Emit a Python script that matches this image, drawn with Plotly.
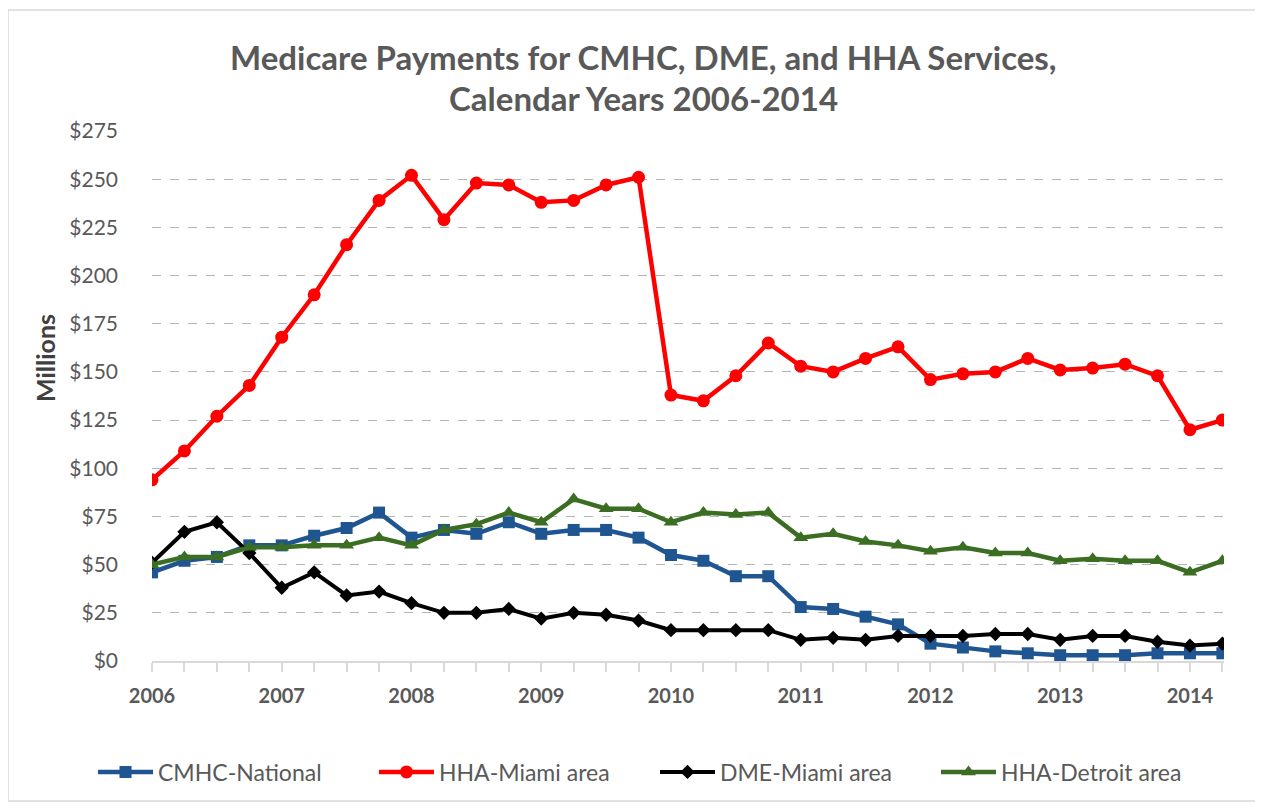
import plotly.graph_objects as go

quarters = [
    "2006 Q1", "2006 Q2", "2006 Q3", "2006 Q4",
    "2007 Q1", "2007 Q2", "2007 Q3", "2007 Q4",
    "2008 Q1", "2008 Q2", "2008 Q3", "2008 Q4",
    "2009 Q1", "2009 Q2", "2009 Q3", "2009 Q4",
    "2010 Q1", "2010 Q2", "2010 Q3", "2010 Q4",
    "2011 Q1", "2011 Q2", "2011 Q3", "2011 Q4",
    "2012 Q1", "2012 Q2", "2012 Q3", "2012 Q4",
    "2013 Q1", "2013 Q2", "2013 Q3", "2013 Q4",
    "2014 Q1", "2014 Q2",
]
year_ticks = ["2006 Q1", "2007 Q1", "2008 Q1", "2009 Q1", "2010 Q1",
              "2011 Q1", "2012 Q1", "2013 Q1", "2014 Q1"]
year_labels = ["2006", "2007", "2008", "2009", "2010", "2011", "2012", "2013", "2014"]

cmhc_national = [46, 52, 54, 60, 60, 65, 69, 77, 64, 68, 66, 72, 66, 68, 68, 64,
                 55, 52, 44, 44, 28, 27, 23, 19, 9, 7, 5, 4, 3, 3, 3, 4, 4, 4]
hha_miami = [94, 109, 127, 143, 168, 190, 216, 239, 252, 229, 248, 247, 238, 239, 247, 251,
             138, 135, 148, 165, 153, 150, 157, 163, 146, 149, 150, 157, 151, 152, 154, 148,
             120, 125]
dme_miami = [51, 67, 72, 56, 38, 46, 34, 36, 30, 25, 25, 27, 22, 25, 24, 21,
             16, 16, 16, 16, 11, 12, 11, 13, 13, 13, 14, 14, 11, 13, 13, 10, 8, 9]
hha_detroit = [50, 54, 54, 59, 59, 60, 60, 64, 60, 68, 71, 77, 72, 84, 79, 79,
               72, 77, 76, 77, 64, 66, 62, 60, 57, 59, 56, 56, 52, 53, 52, 52, 46, 52]

y_ticks = [0, 25, 50, 75, 100, 125, 150, 175, 200, 225, 250, 275]

FONT = "Lato"
TXT = "#595959"

# target plot area on the screenshot: x 152..1224, y 131..661 (page adds 8px body margin)
PL, PR, PT, PB = 152, 1224, 131, 661
PW, PH = PR - PL, PB - PT


def px(x):
    return (x - PL) / PW


def py(y):
    return (PB - y) / PH


fig = go.Figure()
fig.add_trace(go.Scatter(
    x=quarters, y=cmhc_national, name="CMHC-National", mode="lines+markers",
    line=dict(color="#1f5591", width=4.5),
    marker=dict(symbol="square", size=12, color="#1f5591")))
fig.add_trace(go.Scatter(
    x=quarters, y=hha_miami, name="HHA-Miami area", mode="lines+markers",
    line=dict(color="#ff0000", width=4.5),
    marker=dict(symbol="circle", size=13, color="#ff0000")))
fig.add_trace(go.Scatter(
    x=quarters, y=dme_miami, name="DME-Miami area", mode="lines+markers",
    line=dict(color="#000000", width=4),
    marker=dict(symbol="diamond", size=11, color="#000000")))
fig.add_trace(go.Scatter(
    x=quarters, y=hha_detroit, name="HHA-Detroit area", mode="lines+markers",
    line=dict(color="#3b6e22", width=4.5),
    marker=dict(symbol="triangle-up", size=13, color="#3b6e22")))

ticktext = [year_labels[year_ticks.index(q)] if q in year_ticks else "" for q in quarters]

fig.update_layout(
    width=1263, height=812,
    paper_bgcolor="white", plot_bgcolor="white",
    margin=dict(l=PL - 8, r=1263 - (PR - 8), t=PT - 8, b=812 - (PB - 8)),
    font=dict(family=FONT, color=TXT),
    showlegend=True,
    legend=dict(orientation="h", xref="paper", yref="paper",
                x=px(93), y=py(772), xanchor="left", yanchor="middle",
                font=dict(size=23, color=TXT, family=FONT),
                itemwidth=55, entrywidth=211, entrywidthmode="pixels",
                bgcolor="rgba(0,0,0,0)"),
    xaxis=dict(type="category", range=[0, 33.05], tickmode="array",
               tickvals=quarters, ticktext=ticktext, showgrid=False,
               showline=True, linecolor="#d9d9d9", linewidth=1.5,
               ticks="outside", ticklen=9, tickcolor="#d9d9d9", tickwidth=1.5,
               tickfont=dict(size=20, color=TXT, family=FONT, weight="bold"),
               ticklabelstandoff=7, zeroline=False),
    yaxis=dict(range=[0, 275], tickmode="array", tickvals=y_ticks,
               ticktext=["$" + str(v) for v in y_ticks],
               showgrid=True, gridcolor="#b3b3b3", griddash="dash", gridwidth=1,
               showline=False, zeroline=False,
               tickfont=dict(size=21, color=TXT, family=FONT),
               ticklabelstandoff=33),
    annotations=[
        dict(text="<b>Medicare Payments for CMHC, DME, and HHA Services,</b>",
             xref="paper", yref="paper", x=px(643), y=py(57),
             xanchor="center", yanchor="middle", showarrow=False,
             font=dict(size=33, color=TXT, family=FONT)),
        dict(text="<b>Calendar Years 2006-2014</b>",
             xref="paper", yref="paper", x=px(643), y=py(98),
             xanchor="center", yanchor="middle", showarrow=False,
             font=dict(size=33, color=TXT, family=FONT)),
        dict(text="<b>Millions</b>", textangle=-90,
             xref="paper", yref="paper", x=px(45), y=py(358),
             xanchor="center", yanchor="middle", showarrow=False,
             font=dict(size=25, color="#404040", family=FONT)),
    ],
    shapes=[dict(type="rect", xref="paper", yref="paper",
                 x0=px(8), x1=px(1256), y0=py(801), y1=py(10),
                 line=dict(color="#d9d9d9", width=1.5), layer="below")],
)

fig.write_html("out.html")
